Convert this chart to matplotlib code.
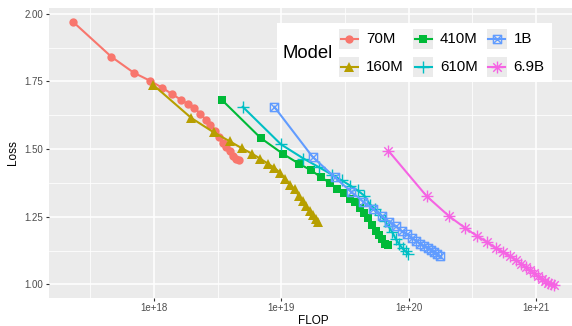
import numpy as np
import matplotlib
matplotlib.use("Agg")
import matplotlib.pyplot as plt
from matplotlib.path import Path
from matplotlib.patches import Rectangle
from matplotlib.lines import Line2D

plt.rcParams['font.family'] = ['Liberation Sans', 'DejaVu Sans']

# checkpoint compute (units of 1e18 FLOP) and loss
models = ['70M', '160M', '410M', '610M', '1B', '6.9B']

flop_70m = [0.231, 0.462, 0.693, 0.924, 1.155, 1.386, 1.617, 1.848, 2.079, 2.31,
            2.541, 2.772, 3.003, 3.234, 3.465, 3.696, 3.927, 4.158, 4.389, 4.62]
loss_70m = [1.970, 1.841, 1.782, 1.753, 1.727, 1.703, 1.683, 1.666, 1.651, 1.631,
            1.609, 1.590, 1.568, 1.546, 1.524, 1.506, 1.491, 1.476, 1.465, 1.458]

flop_160m = [0.98, 1.96, 2.94, 3.92, 4.90, 5.88, 6.86, 7.84, 8.82, 9.80,
             10.78, 11.76, 12.74, 13.72, 14.70, 15.68, 16.66, 17.64, 18.62, 19.60]
loss_160m = [1.738, 1.615, 1.562, 1.529, 1.503, 1.483, 1.464, 1.446, 1.431, 1.412,
             1.390, 1.369, 1.351, 1.328, 1.307, 1.289, 1.270, 1.255, 1.240, 1.230]

flop_410m = [3.44, 6.88, 10.32, 13.76, 17.20, 20.64, 24.08, 27.52, 30.96, 34.40,
             37.84, 41.28, 44.72, 48.16, 51.60, 55.04, 58.48, 61.92, 65.36, 68.80]
loss_410m = [1.680, 1.541, 1.482, 1.446, 1.421, 1.395, 1.375, 1.354, 1.336, 1.317,
             1.303, 1.284, 1.262, 1.244, 1.221, 1.199, 1.181, 1.166, 1.151, 1.144]

flop_610m = [4.98, 9.96, 14.94, 19.92, 24.90, 29.88, 34.86, 39.84, 44.82, 49.80,
             54.78, 59.76, 64.74, 69.72, 74.70, 79.68, 84.66, 89.64, 94.62, 99.60]
loss_610m = [1.656, 1.517, 1.465, 1.432, 1.406, 1.384, 1.365, 1.347, 1.328, 1.295,
             1.277, 1.258, 1.236, 1.214, 1.192, 1.166, 1.148, 1.133, 1.122, 1.114]

flop_1b = [8.81, 17.62, 26.43, 35.24, 44.05, 52.86, 61.67, 70.48, 79.29, 88.10,
           96.91, 105.72, 114.53, 123.34, 132.15, 140.96, 149.77, 158.58, 167.39, 176.20]
loss_1b = [1.656, 1.471, 1.395, 1.343, 1.306, 1.277, 1.253, 1.232, 1.214, 1.197,
           1.185, 1.173, 1.162, 1.151, 1.142, 1.135, 1.127, 1.120, 1.113, 1.105]

flop_6900m = [69.3, 138.6, 207.9, 277.2, 346.5, 415.8, 485.1, 554.4, 623.7, 693.0,
              762.3, 831.6, 900.9, 970.2, 1039.5, 1108.8, 1178.1, 1247.4, 1316.7, 1386.0]
loss_6900m = [1.494, 1.326, 1.252, 1.209, 1.178, 1.156, 1.133, 1.119, 1.105, 1.092,
              1.077, 1.063, 1.052, 1.041, 1.030, 1.020, 1.013, 1.007, 1.002, 0.998]

flops = [flop_70m, flop_160m, flop_410m, flop_610m, flop_1b, flop_6900m]
losses = [loss_70m, loss_160m, loss_410m, loss_610m, loss_1b, loss_6900m]

colors = ['#F8766D', '#B79F00', '#00BA38', '#00BFC4', '#619CFF', '#F564E3']

# ggplot-like marker shapes
box_x = Path([(-1, -1), (1, -1), (1, 1), (-1, 1), (-1, -1), (-1, -1), (1, 1), (-1, 1), (1, -1)],
             [Path.MOVETO, Path.LINETO, Path.LINETO, Path.LINETO, Path.CLOSEPOLY,
              Path.MOVETO, Path.LINETO, Path.MOVETO, Path.LINETO])
d = 0.7071
star8 = Path([(-1, 0), (1, 0), (0, -1), (0, 1), (-d, -d), (d, d), (-d, d), (d, -d)],
             [Path.MOVETO, Path.LINETO] * 4)
styles = [
    dict(marker='o', ms=6.0, mfc=colors[0], mew=0),
    dict(marker='^', ms=7.0, mfc=colors[1], mew=0),
    dict(marker='s', ms=5.8, mfc=colors[2], mew=0),
    dict(marker='+', ms=8.5, mew=1.0),
    dict(marker=box_x, ms=5.9, mfc='none', mew=1.0),
    dict(marker=star8, ms=8.6, mfc='none', mew=1.0),
]

W, H = 572, 326
fig = plt.figure(figsize=(W / 100, H / 100), dpi=100)
# panel is cropped on the right in the reference
ax = fig.add_axes([49 / W, 1 - 297.7 / H, (578 - 49) / W, (297.7 - 8) / H])
ax.set_facecolor('#EBEBEB')
for s in ax.spines.values():
    s.set_visible(False)

for f, l, c, st in zip(flops, losses, colors, styles):
    ax.plot(np.array(f) * 1e18, l, color=c, lw=1.5, mec=c, **st)

ax.set_xscale('log')
ax.set_xlim(10 ** 17.175, 10 ** 21.331)
ax.set_ylim(0.951, 2.021)

ax.set_xticks([1e18, 1e19, 1e20, 1e21])
ax.set_xticklabels(['1e+18', '1e+19', '1e+20', '1e+21'])
ax.set_xticks([10 ** 17.5, 10 ** 18.5, 10 ** 19.5, 10 ** 20.5], minor=True)
ax.xaxis.set_minor_formatter(plt.NullFormatter())
ax.set_yticks([1.00, 1.25, 1.50, 1.75, 2.00])
ax.set_yticklabels(['1.00', '1.25', '1.50', '1.75', '2.00'])
ax.set_yticks([1.125, 1.375, 1.625, 1.875], minor=True)

ax.grid(which='major', color='white', lw=1.1)
ax.grid(which='minor', color='white', lw=0.55)
ax.set_axisbelow(True)
ax.tick_params(which='major', length=2.5, width=0.8, color='#333333',
               labelcolor='#4D4D4D', labelsize=7.0, pad=1.5)
ax.tick_params(which='minor', length=0)

ax.set_xlabel('FLOP', fontsize=8.5, color='black', labelpad=1.5)
ax.set_ylabel('Loss', fontsize=8.5, color='black', labelpad=4)

# legend drawn by hand to mimic ggplot layout (title on the left, grey keys)
def fx(px):
    return px / W

def fy(py):
    return 1 - py / H

fig.add_artist(Rectangle((fx(277), fy(82)), fx(552) - fx(277), fy(23) - fy(82),
                         transform=fig.transFigure, facecolor='white', edgecolor='none', zorder=5))
fig.text(fx(283), fy(53), 'Model', fontsize=13.3, va='center', ha='left', zorder=6)

key_cols = [349.3, 423, 496.5]
key_rows = [39.3, 66.7]
for i, (name, c, st) in enumerate(zip(models, colors, styles)):
    cx = key_cols[i // 2]
    cy = key_rows[i % 2]
    fig.add_artist(Rectangle((fx(cx - 10), fy(cy + 10)), fx(20), 20 / H,
                             transform=fig.transFigure, facecolor='#EBEBEB',
                             edgecolor='none', zorder=6))
    fig.add_artist(Line2D([fx(cx - 8.5), fx(cx + 8.5)], [fy(cy), fy(cy)], color=c, lw=1.5,
                          transform=fig.transFigure, zorder=7))
    fig.add_artist(Line2D([fx(cx)], [fy(cy)], color=c, mec=c, lw=0,
                          transform=fig.transFigure, zorder=8, **st))
    fig.text(fx(cx + 17), fy(cy), name, fontsize=10.8, va='center', ha='left', zorder=8)

fig.savefig('out.png', dpi=100)
